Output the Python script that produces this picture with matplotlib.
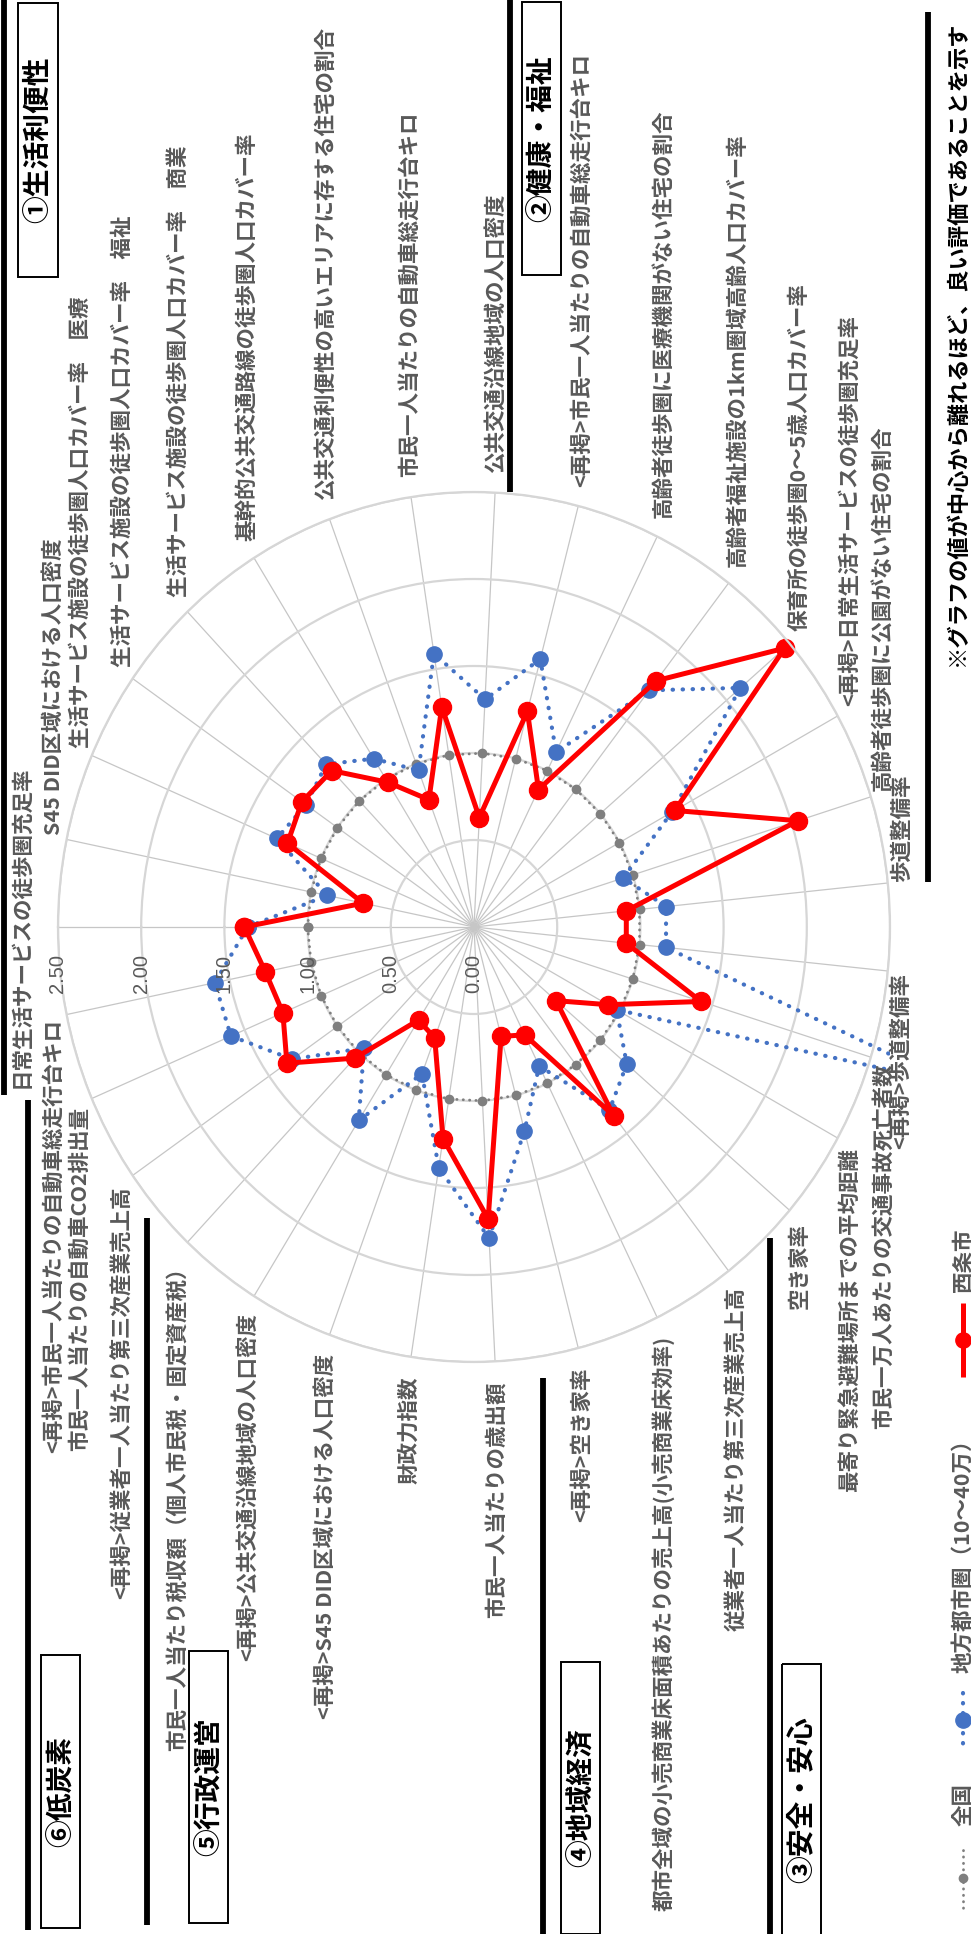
import numpy as np
import matplotlib.pyplot as plt
from matplotlib.patches import Rectangle

plt.rcParams['font.family'] = ['Noto Sans CJK JP', 'DejaVu Sans']

W, H = 971, 1934

# categories, clockwise from the left spoke
labels = [
    "日常生活サービスの徒歩圏充足率",
    "S45 DID区域における人口密度",
    "生活サービス施設の徒歩圏人口カバー率　医療",
    "生活サービス施設の徒歩圏人口カバー率　福祉",
    "生活サービス施設の徒歩圏人口カバー率　商業",
    "基幹的公共交通路線の徒歩圏人口カバー率",
    "公共交通利便性の高いエリアに存する住宅の割合",
    "市民一人当たりの自動車総走行台キロ",
    "公共交通沿線地域の人口密度",
    "<再掲>市民一人当たりの自動車総走行台キロ",
    "高齢者徒歩圏に医療機関がない住宅の割合",
    "高齢者福祉施設の1km圏域高齢人口カバー率",
    "保育所の徒歩圏0～5歳人口カバー率",
    "<再掲>日常生活サービスの徒歩圏充足率",
    "高齢者徒歩圏に公園がない住宅の割合",
    "歩道整備率",
    "<再掲>歩道整備率",
    "市民一万人あたりの交通事故死亡者数",
    "最寄り緊急避難場所までの平均距離",
    "空き家率",
    "従業者一人当たり第三次産業売上高",
    "都市全域の小売商業床面積あたりの売上高(小売商業床効率)",
    "<再掲>空き家率",
    "市民一人当たりの歳出額",
    "財政力指数",
    "<再掲>S45 DID区域における人口密度",
    "<再掲>公共交通沿線地域の人口密度",
    "市民一人当たり税収額（個人市民税・固定資産税）",
    "<再掲>従業者一人当たり第三次産業売上高",
    "市民一人当たりの自動車CO2排出量",
    "<再掲>市民一人当たりの自動車総走行台キロ",
]

# series values
saijo = [1.38, 0.68, 1.22, 1.26, 1.24, 0.98, 0.78, 1.28, 0.63, 1.28,
         0.88, 1.79, 2.46, 1.38, 2.04, 0.92, 0.92, 1.43, 0.92, 0.65,
         1.37, 0.69, 0.65, 1.68, 1.23, 0.68, 0.63, 1.04, 1.37, 1.25, 1.28]
chihou = [1.36, 0.90, 1.29, 1.23, 1.29, 1.14, 0.96, 1.59, 1.31, 1.59,
          1.12, 1.72, 2.11, 1.36, 0.94, 1.16, 1.16, 3.01, 0.98, 1.21,
          1.33, 0.89, 1.21, 1.79, 1.40, 0.90, 1.31, 0.96, 1.33, 1.59, 1.59]
zenkoku = [1.00, 1.00, 1.00, 1.00, 1.00, 1.00, 1.00, 1.00, 1.00, 1.00,
           1.00, 1.00, 1.00, 1.00, 1.00, 1.00, 1.00, 1.00, 1.00, 1.00,
           1.00, 1.00, 1.00, 1.00, 1.00, 1.00, 1.00, 1.00, 1.00, 1.00, 1.00]
rticks = [0.0, 0.5, 1.0, 1.5, 2.0, 2.5]

GRAY_TXT = '#595959'
RED = '#ff0000'
BLUE = '#4472c4'
GRAY = '#7f7f7f'

fig = plt.figure(figsize=(W / 100, H / 100), dpi=100)
fig.patch.set_facecolor('white')

# radar (the plot area is a little taller than wide, as in the picture)
ax = fig.add_axes([58 / W, 1 - 1362 / H, 832 / W, 870 / H], projection='polar')
ax.set_aspect('auto')
ax.set_theta_offset(np.pi)
ax.set_theta_direction(-1)
ax.set_ylim(0, 2.5)

n = len(labels)
theta = np.arange(n) * 2 * np.pi / n
ax.set_xticks(theta)
ax.set_xticklabels([])
ax.set_yticks(rticks[1:])
ax.set_yticklabels([])
ax.tick_params(length=0)
ax.xaxis.grid(True, color='#c6c6c6', lw=0.9)
ax.yaxis.grid(True, color='#d6d6d6', lw=1.6)
ax.spines['polar'].set_color('#d6d6d6')
ax.spines['polar'].set_linewidth(1.6)

th = np.append(theta, theta[0])


def closed(v):
    return np.append(v, v[0])


lines = []
lines += ax.plot(th, closed(zenkoku), color=GRAY, lw=2, ls=(0, (0.1, 2.2)),
                 dash_capstyle='round', marker='o', ms=6)
lines += ax.plot(th, closed(chihou), color=BLUE, lw=3, ls=(0, (0.1, 2.3)),
                 dash_capstyle='round', marker='o', ms=11)
lines += ax.plot(th, closed(saijo), color=RED, lw=3.6, marker='o', ms=13)
# excel clips to the plot-area rectangle, not the circle
for ln in lines:
    ln.set_clip_path(None)
    ln.set_clip_box(ax.bbox)

# overlay in pixel coordinates (y down) for all the text and frames
ov = fig.add_axes([0, 0, 1, 1], zorder=5)
ov.set_xlim(0, W)
ov.set_ylim(H, 0)
ov.axis('off')


def to_px(t, r):
    x, y = ax.transData.transform((t, r))
    return x, H - y


cx, cy = to_px(0, 0)
a = ax.bbox.width / 2
b = ax.bbox.height / 2

for k, (t, lab) in enumerate(zip(theta, labels)):
    ex, ey = to_px(t, 2.5)
    c = (ex - cx) / a
    s = (cy - ey) / b
    if k == 0:
        x = cx - a - 37
    else:
        x = cx + (a + 13) * c
    y = cy - (b + 20) * s
    va = 'bottom' if s > 0.05 else ('top' if s < -0.05 else 'center')
    ov.text(x, y, lab, rotation=90, ha='center', va=va, fontsize=15.5,
            color=GRAY_TXT, fontweight='bold')

for v in rticks:
    x, y = to_px(0, v)
    ov.text(x, y + 46, f'{v:.2f}', rotation=90, ha='center', va='center',
            fontsize=14.5, color=GRAY_TXT, family='Liberation Sans')


def sep(x, y0, y1):
    ov.plot([x, x], [y0, y1], color='black', lw=4.2, solid_capstyle='butt')


def group_box(text, x0, y0, w, h):
    ov.add_patch(Rectangle((x0, y0), w, h, fill=False, ec='black', lw=1.4))
    ov.text(x0 + w / 2, y0 + h / 2, text, rotation=90, ha='center', va='center',
            fontsize=20, fontweight='bold', color='black')


sep(3.5, 0, 1095)
sep(27.5, 1100, 1930)
sep(146.5, 1218, 1925)
sep(543, 1378, 1934)
sep(770, 1238, 1934)
sep(510, 0, 492)
sep(928, 12, 882)

group_box("①生活利便性", 18, 3, 40, 274)
group_box("②健康・福祉", 522, 2, 39, 273)
group_box("⑥低炭素", 41, 1655, 39, 273)
group_box("⑤行政運営", 189, 1651, 39, 272)
group_box("④地域経済", 561, 1662, 39, 272)
group_box("③安全・安心", 782, 1664, 39, 272)

ov.text(957, 343, "※グラフの値が中心から離れるほど、良い評価であることを示す",
        rotation=90, ha='center', va='center', fontsize=16,
        fontweight='bold', color='black')

# legend
lx = 963
ov.plot([lx, lx], [1303, 1377], color=RED, lw=3.6, solid_capstyle='butt')
ov.plot([lx], [1340], 'o', color=RED, ms=11)
ov.text(lx, 1260, "西条市", rotation=90, ha='center', va='center',
        fontsize=15.5, fontweight='bold', color=GRAY_TXT)
ov.plot([lx, lx], [1693, 1753], color=BLUE, lw=3, ls=(0, (0.1, 2.3)),
        dash_capstyle='round')
ov.plot([lx], [1720], 'o', color=BLUE, ms=11)
ov.text(lx, 1673, "地方都市圏（10～40万）", rotation=90, ha='center', va='bottom',
        fontsize=15.5, fontweight='bold', color=GRAY_TXT)
ov.plot([lx, lx], [1850, 1913], color=GRAY, lw=2, ls=(0, (0.1, 2.2)),
        dash_capstyle='round')
ov.plot([lx], [1878], 'o', color=GRAY, ms=6)
ov.text(lx, 1805, "全国", rotation=90, ha='center', va='center',
        fontsize=15.5, fontweight='bold', color=GRAY_TXT)

fig.savefig('out.png', dpi=100, facecolor='white')
